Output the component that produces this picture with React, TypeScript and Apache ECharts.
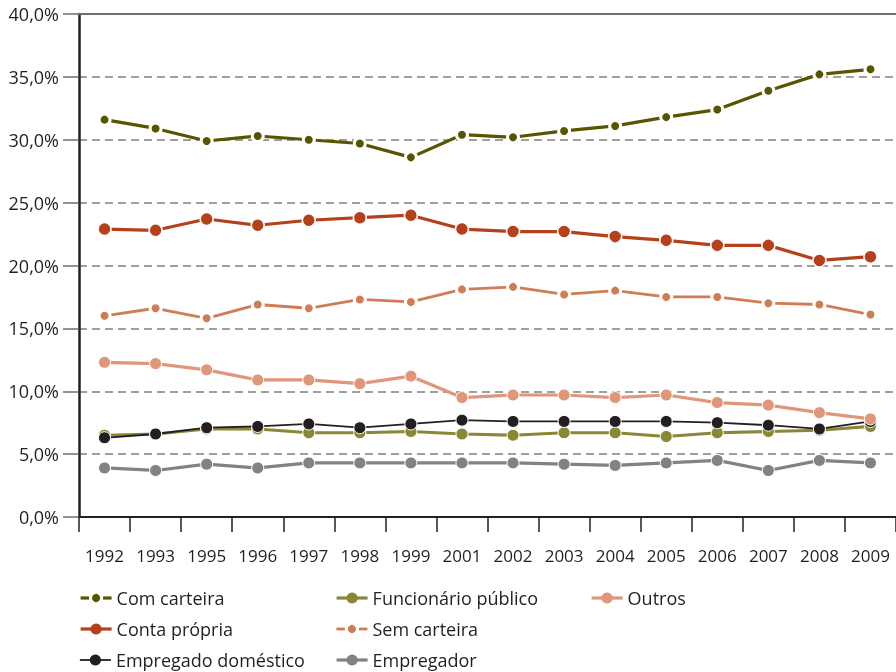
import React, { useEffect, useRef } from "react";
import * as echarts from "echarts";

const years = ["1992", "1993", "1995", "1996", "1997", "1998", "1999", "2001", "2002", "2003", "2004", "2005", "2006", "2007", "2008", "2009"];

const comCarteira = [31.6, 30.9, 29.9, 30.3, 30.0, 29.7, 28.6, 30.4, 30.2, 30.7, 31.1, 31.8, 32.4, 33.9, 35.2, 35.6];
const contaPropria = [22.9, 22.8, 23.7, 23.2, 23.6, 23.8, 24.0, 22.9, 22.7, 22.7, 22.3, 22.0, 21.6, 21.6, 20.4, 20.7];
const semCarteira = [16.0, 16.6, 15.8, 16.9, 16.6, 17.3, 17.1, 18.1, 18.3, 17.7, 18.0, 17.5, 17.5, 17.0, 16.9, 16.1];
const outros = [12.3, 12.2, 11.7, 10.9, 10.9, 10.6, 11.2, 9.5, 9.7, 9.7, 9.5, 9.7, 9.1, 8.9, 8.3, 7.8];
const empDomestico = [6.3, 6.6, 7.1, 7.2, 7.4, 7.1, 7.4, 7.7, 7.6, 7.6, 7.6, 7.6, 7.5, 7.3, 7.0, 7.6];
const funcPublico = [6.5, 6.6, 7.0, 7.0, 6.7, 6.7, 6.8, 6.6, 6.5, 6.7, 6.7, 6.4, 6.7, 6.8, 6.9, 7.2];
const empregador = [3.9, 3.7, 4.2, 3.9, 4.3, 4.3, 4.3, 4.3, 4.3, 4.2, 4.1, 4.3, 4.5, 3.7, 4.5, 4.3];

const yTicks = { min: 0, max: 40, interval: 5 };

// legend layout: [name, column, row]
const legendLayout: [string, number, number][] = [
  ["Com carteira", 0, 0],
  ["Funcionário público", 1, 0],
  ["Outros", 2, 0],
  ["Conta própria", 0, 1],
  ["Sem carteira", 1, 1],
  ["Empregado doméstico", 0, 2],
  ["Empregador", 1, 2],
];
const legendCols = [79, 335, 590];
const legendRows = [589, 620, 651];

const FONT = "'Open Sans', 'Noto Sans', sans-serif";
const TEXT = "#231f20";

type Style = { color: string; width: number; size: number; border: number };
const styles: Record<string, Style> = {
  "Empregador": { color: "#808285", width: 3.2, size: 12, border: 1 },
  "Funcionário público": { color: "#8a8737", width: 3.2, size: 12, border: 1 },
  "Empregado doméstico": { color: "#231f20", width: 1.8, size: 12, border: 1 },
  "Outros": { color: "#e0967a", width: 3.2, size: 12, border: 1 },
  "Sem carteira": { color: "#d07c55", width: 2.8, size: 11, border: 3 },
  "Conta própria": { color: "#b5401a", width: 3.2, size: 13, border: 1.5 },
  "Com carteira": { color: "#575500", width: 3.2, size: 11, border: 3 },
};

function mkSeries(name: string, data: number[]) {
  const s = styles[name];
  return {
    name,
    type: "line",
    data,
    symbol: "circle",
    symbolSize: s.size,
    showSymbol: true,
    lineStyle: { color: s.color, width: s.width },
    itemStyle: { color: s.color, borderColor: "#ffffff", borderWidth: s.border },
    emphasis: { disabled: true },
  };
}

export default function App() {
  const ref = useRef<HTMLDivElement>(null);
  useEffect(() => {
    if (!ref.current) return;
    const chart = echarts.init(ref.current, null, { renderer: "svg" });
    const legends = legendLayout.map(([name, c, r]) => {
      const s = styles[name];
      return {
        orient: "horizontal",
        left: legendCols[c],
        top: legendRows[r],
        itemWidth: 31,
        itemHeight: 14,
        padding: 0,
        textStyle: { fontFamily: FONT, fontSize: 18, color: TEXT },
        lineStyle: { width: s.width, color: s.color, type: "solid" },
        itemStyle: { color: s.color, borderColor: "#ffffff", borderWidth: s.border > 2 ? 3 : 0 },
        selectedMode: false,
        data: [name],
      };
    });
    chart.setOption({
      animation: false,
      textStyle: { fontFamily: FONT },
      grid: { left: 79, right: 0, top: 14, bottom: 155, containLabel: false },
      legend: legends,
      xAxis: [
        {
          type: "category",
          data: years,
          boundaryGap: true,
          axisLine: { show: true, lineStyle: { color: TEXT, width: 2 } },
          axisTick: { show: true, length: 15, interval: 0, alignWithLabel: false, lineStyle: { color: TEXT, width: 1.5 } },
          axisLabel: { interval: 0, margin: 30, fontSize: 17, color: TEXT, fontFamily: FONT },
          splitLine: { show: false },
        },
        {
          type: "category",
          data: years,
          position: "top",
          axisLine: { show: true, lineStyle: { color: "#6d6e71", width: 2 } },
          axisTick: { show: false },
          axisLabel: { show: false },
          splitLine: { show: false },
        },
      ],
      yAxis: {
        type: "value",
        min: yTicks.min,
        max: yTicks.max,
        interval: yTicks.interval,
        axisLine: { show: true, lineStyle: { color: TEXT, width: 2.5 } },
        axisTick: { show: true, length: 16, lineStyle: { color: "#6d6e71", width: 1.5 } },
        axisLabel: {
          margin: 20,
          fontSize: 18,
          color: TEXT,
          fontFamily: FONT,
          formatter: (v: number) => v.toFixed(1).replace(".", ",") + "%",
        },
        splitLine: { show: true, lineStyle: { color: "#808080", width: 1.5, type: [8, 5] } },
      },
      series: [
        mkSeries("Empregador", empregador),
        mkSeries("Funcionário público", funcPublico),
        mkSeries("Empregado doméstico", empDomestico),
        mkSeries("Outros", outros),
        mkSeries("Sem carteira", semCarteira),
        mkSeries("Conta própria", contaPropria),
        mkSeries("Com carteira", comCarteira),
      ],
    });
    return () => chart.dispose();
  }, []);
  return <div ref={ref} style={{ position: "fixed", left: 0, top: 0, width: 896, height: 672 }} />;
}
